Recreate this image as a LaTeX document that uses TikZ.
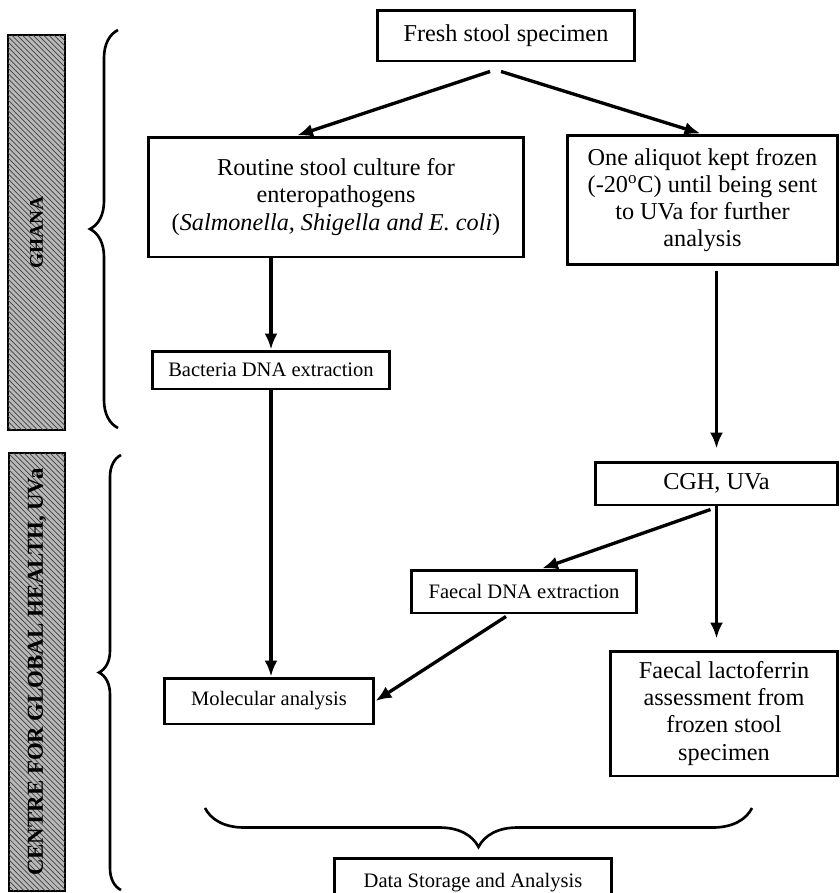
\documentclass[tikz,border=0pt]{standalone}
\usepackage{fontspec}
\setmainfont{Liberation Serif}
\usetikzlibrary{arrows.meta,calc,patterns,decorations.pathreplacing}

\begin{document}
\begin{tikzpicture}[x=0.02cm, y=-0.02cm,
   box/.style={draw, line width=1.7pt, align=center, inner sep=0pt,
     font=\fontsize{13.8}{15.4}\selectfont},
   smallbox/.style={box, font=\fontsize{11.7}{14}\selectfont},
   flow/.style={-{Latex[length=3.2mm,width=2.6mm]}, line width=1.9pt},
   region/.style={draw, line width=1.5pt, fill=gray!55, inner sep=0pt, rotate=90,
     postaction={pattern=north west lines, pattern color=black!75}},
   bracket/.style={decorate, decoration={brace, amplitude=#1}, line width=1.5pt}]
   \useasboundingbox (0,0) rectangle (839,893);

   % sites
   \node [region, minimum width=7.9cm, minimum height=1.14cm,
     font=\fontsize{11}{13}\selectfont\bfseries] (ghana) at (36.5,232.5) {GHANA};
   \node [region, minimum width=8.76cm, minimum height=1.12cm,
     font=\fontsize{13}{15}\selectfont\bfseries] (cgh-site) at (37,672) {CENTRE FOR GLOBAL HEALTH, UVa};
   \draw [bracket=0.56cm] (118,428) -- (118,30);
   \draw [bracket=0.44cm] (121,890) -- (121,455);

   % steps
   \node [box, minimum width=5.14cm, minimum height=1.02cm] (fresh) at (506,35.5) {Fresh stool specimen};
   \node [box, minimum width=7.52cm, minimum height=2.4cm] (routine) at (336,197)
     {Routine stool culture for\\ enteropathogens\\ (\textit{Salmonella, Shigella and E. coli})};
   \node [box, minimum width=5.42cm, minimum height=2.6cm] (aliquot) at (702.5,200)
     {One aliquot kept frozen\\ (-20\textsuperscript{o}C) until being sent\\ to UVa for further\\ analysis};
   \node [smallbox, minimum width=4.76cm, minimum height=0.76cm] (bact) at (271,370) {Bacteria DNA extraction};
   \node [box, minimum width=4.86cm, minimum height=0.86cm] (cgh) at (716.5,483.5) {CGH, UVa};
   \node [smallbox, minimum width=4.52cm, minimum height=0.86cm] (fdna) at (524,591.5) {Faecal DNA extraction};
   \node [smallbox, minimum width=4.2cm, minimum height=0.92cm] (molec) at (269,701) {Molecular analysis};
   \node [box, minimum width=4.56cm, minimum height=2.5cm] (lacto) at (724,713.5)
     {Faecal lactoferrin\\ assessment from\\ frozen stool\\ specimen};
   \node [smallbox, minimum width=5.56cm, minimum height=1cm] (data) at (473,883) {Data Storage and Analysis};

   % flows
   \draw [flow] ($(fresh.south)+(-16,9)$) -- ($(routine.north)+(-39,0)$);
   \draw [flow] ($(fresh.south)+(-5,9)$) -- ($(aliquot.north)+(-2,0)$);
   \draw [flow] (routine.south -| bact.north) -- (bact.north);
   \draw [flow] (bact.south) -- (bact.south |- molec.north);
   \draw [flow, shorten <=0.1cm, shorten >=0.24cm] (aliquot.south -| cgh.north) -- (cgh.north);
   \draw [flow, shorten >=0.22cm] (cgh.south) -- (cgh.south |- lacto.north);
   \draw [flow] ($(cgh.south)+(-6,3)$) -- ($(fdna.north)+(18,0)$);
   \draw [flow] ($(fdna.south)+(-18,2)$) -- (molec.east);
   \draw [bracket=0.78cm] (752,808) -- (205,808);
\end{tikzpicture}
\end{document}
